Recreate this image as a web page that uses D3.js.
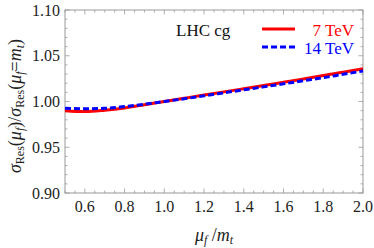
<!DOCTYPE html>
<html><head><meta charset="utf-8">
<script src="https://cdn.jsdelivr.net/npm/d3@7"></script>
<style>body{margin:0;background:#fff}svg{display:block}</style>
</head><body><svg id="c" width="374" height="248" font-family="'Liberation Serif', 'DejaVu Serif', serif"></svg>
<script>
const muValues = [0.5,0.6,0.7,0.8,0.9,1.0,1.1,1.2,1.3,1.4,1.5,1.6,1.7,1.8,1.9,2.0];
const ratio7TeV = [0.990,0.989,0.9905,0.993,0.9965,1.000,1.0035,1.007,1.0105,1.014,1.0175,1.021,1.0245,1.0285,1.032,1.0358];
const ratio14TeV = [0.9927,0.992,0.9925,0.9945,0.997,1.000,1.003,1.0062,1.0095,1.0128,1.016,1.0193,1.0227,1.026,1.0297,1.0333];
const xTicks = [0.6,0.8,1.0,1.2,1.4,1.6,1.8,2.0];
const yTicks = [0.90,0.95,1.00,1.05,1.10];
const seriesNames = ["7 TeV","14 TeV"];

const svg = d3.select("#c");
const L=65,R=363,T=10,B=193;
const x = d3.scaleLinear().domain([0.5,2.0]).range([L,R]);
const y = d3.scaleLinear().domain([0.90,1.10]).range([B,T]);
const frameCol="#999";

const xMinor = d3.range(0.5,2.0001,0.05);
const yMinor = d3.range(0.90,1.1001,0.01);
const isMajX = v => xTicks.some(t=>Math.abs(t-v)<1e-6);
const isMajY = v => yTicks.some(t=>Math.abs(t-v)<1e-6);
const g = svg.append("g");
xMinor.forEach(v=>{
  const len = isMajX(v)?4.5:2.5;
  g.append("line").attr("x1",x(v)).attr("x2",x(v)).attr("y1",B).attr("y2",B-len).attr("stroke",frameCol).attr("stroke-width",0.8);
  g.append("line").attr("x1",x(v)).attr("x2",x(v)).attr("y1",T).attr("y2",T+len).attr("stroke",frameCol).attr("stroke-width",0.8);
});
yMinor.forEach(v=>{
  const len = isMajY(v)?4.5:2.5;
  g.append("line").attr("y1",y(v)).attr("y2",y(v)).attr("x1",L).attr("x2",L+len).attr("stroke",frameCol).attr("stroke-width",0.8);
  g.append("line").attr("y1",y(v)).attr("y2",y(v)).attr("x1",R).attr("x2",R-len).attr("stroke",frameCol).attr("stroke-width",0.8);
});
g.append("rect").attr("x",L).attr("y",T).attr("width",R-L).attr("height",B-T).attr("fill","none").attr("stroke",frameCol).attr("stroke-width",1);

svg.selectAll(".xt").data(xTicks).enter().append("text")
  .attr("x",d=>x(d)).attr("y",212).attr("text-anchor","middle").attr("font-size",16).attr("fill","#222")
  .text(d=>d.toFixed(1));
svg.selectAll(".yt").data(yTicks).enter().append("text")
  .attr("x",60).attr("y",d=>y(d)+5.5).attr("text-anchor","end").attr("font-size",16).attr("fill","#222")
  .text(d=>d.toFixed(2));

const line = d3.line().x((d,i)=>x(muValues[i])).y(d=>y(d)).curve(d3.curveMonotoneX);
svg.append("path").attr("d",line(ratio7TeV)).attr("fill","none").attr("stroke","#f00").attr("stroke-width",3);
svg.append("path").attr("d",line(ratio14TeV)).attr("fill","none").attr("stroke","#00f").attr("stroke-width",3).attr("stroke-dasharray","6,3");

svg.append("text").attr("x",176).attr("y",36).attr("font-size",17).attr("fill","#111").text("LHC cg");
svg.append("line").attr("x1",262).attr("x2",295).attr("y1",29).attr("y2",29).attr("stroke","#f00").attr("stroke-width",3);
svg.append("line").attr("x1",262).attr("x2",295).attr("y1",47).attr("y2",47).attr("stroke","#00f").attr("stroke-width",3).attr("stroke-dasharray","6,3");
svg.append("text").attr("x",354).attr("y",36).attr("text-anchor","end").attr("font-size",17).attr("fill","#f00").text(seriesNames[0]);
svg.append("text").attr("x",354).attr("y",54).attr("text-anchor","end").attr("font-size",17).attr("fill","#00f").text(seriesNames[1]);

const xl = svg.append("text").attr("x",214).attr("y",241).attr("text-anchor","middle").attr("font-size",18).attr("font-style","italic").attr("fill","#222");
xl.append("tspan").text("μ");
xl.append("tspan").attr("font-size",12).attr("dy",3).text("f");
xl.append("tspan").attr("dy",-3).attr("font-style","normal").text(" /");
xl.append("tspan").text("m");
xl.append("tspan").attr("font-size",12).attr("dy",3).text("t");

const yl = svg.append("text").attr("transform","translate(21,106) rotate(-90)").attr("text-anchor","middle").attr("font-size",18).attr("fill","#222");
yl.append("tspan").attr("font-style","italic").text("σ");
yl.append("tspan").attr("font-size",12).attr("dy",3).text("Res");
yl.append("tspan").attr("dy",-3).text("(");
yl.append("tspan").attr("font-style","italic").text("μ");
yl.append("tspan").attr("font-style","italic").attr("font-size",12).attr("dy",3).text("f");
yl.append("tspan").attr("dy",-3).text(")/");
yl.append("tspan").attr("font-style","italic").text("σ");
yl.append("tspan").attr("font-size",12).attr("dy",3).text("Res");
yl.append("tspan").attr("dy",-3).text("(");
yl.append("tspan").attr("font-style","italic").text("μ");
yl.append("tspan").attr("font-style","italic").attr("font-size",12).attr("dy",3).text("f");
yl.append("tspan").attr("dy",-3).text("=");
yl.append("tspan").attr("font-style","italic").text("m");
yl.append("tspan").attr("font-style","italic").attr("font-size",12).attr("dy",3).text("t");
yl.append("tspan").attr("dy",-3).text(")");
</script></body></html>
